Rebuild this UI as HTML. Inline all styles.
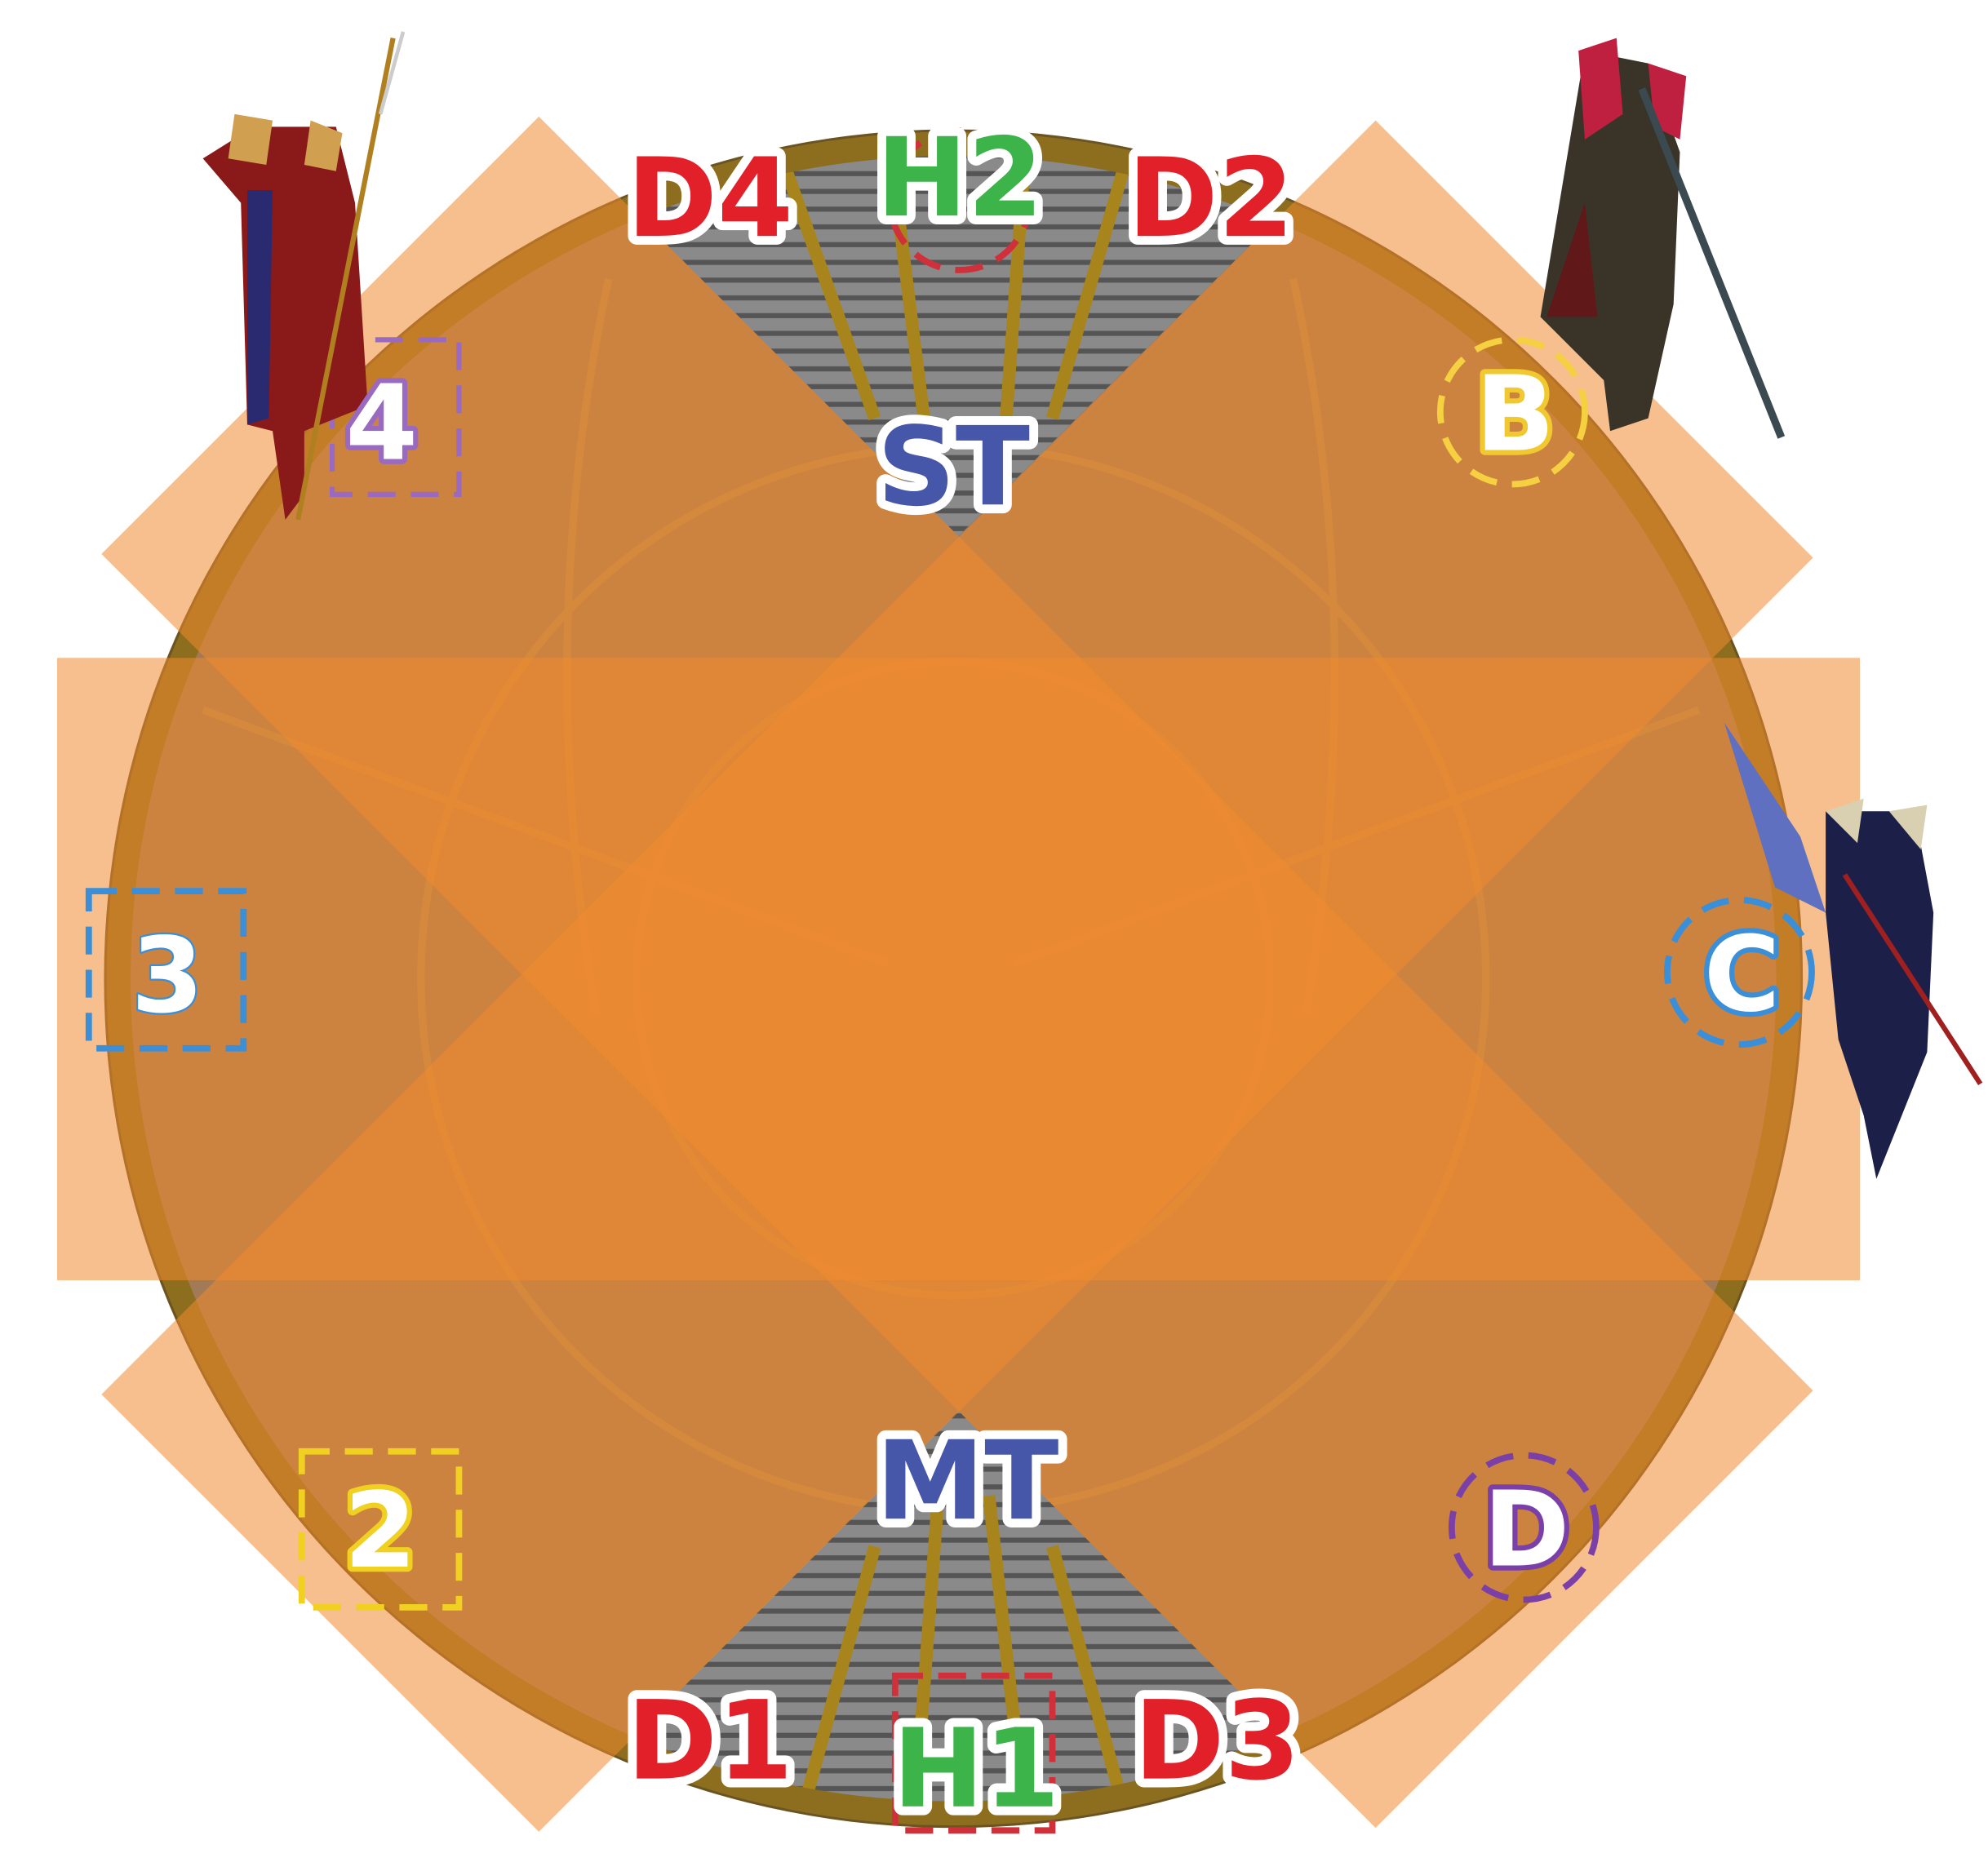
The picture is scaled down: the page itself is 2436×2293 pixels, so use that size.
<!DOCTYPE html>
<html><head><meta charset="utf-8"><style>
html,body{margin:0;padding:0;background:#fff;}
svg{display:block;}
.t{font-family:"DejaVu Sans","Liberation Sans",sans-serif;font-weight:bold;paint-order:stroke;stroke:#fff;stroke-linejoin:round;text-anchor:middle;}
</style></head><body>
<svg width="2436" height="2293" viewBox="0 0 1568 1476" xmlns="http://www.w3.org/2000/svg">
<defs>
<clipPath id="cc"><circle cx="752" cy="772" r="668"/></clipPath>
<pattern id="stripes" width="40" height="14" patternUnits="userSpaceOnUse">
<rect width="40" height="14" fill="#8a8a8a"/><rect y="9" width="40" height="4" fill="#555"/>
</pattern>
</defs>
<circle cx="752" cy="772" r="670" fill="#6b5420"/>
<circle cx="752" cy="772" r="655" fill="#a27a56"/>
<g clip-path="url(#cc)">
<g stroke="#c09048" stroke-width="6" fill="none" opacity="0.6">
<circle cx="752" cy="772" r="250"/><circle cx="752" cy="772" r="420"/>
<path d="M480 220 Q420 500 470 800"/><path d="M1020 220 Q1080 500 1030 800"/>
<path d="M160 560 L700 760"/><path d="M1340 560 L800 760"/>
</g>
<polygon points="333,0 756,423 1180,0" fill="url(#stripes)"/>
<polygon points="756,1113 394,1476 1119,1476" fill="url(#stripes)"/>
<g stroke="#a8841c" stroke-width="10">
<line x1="615" y1="120" x2="690" y2="330"/><line x1="700" y1="100" x2="735" y2="380"/>
<line x1="810" y1="100" x2="790" y2="380"/><line x1="890" y1="120" x2="830" y2="330"/>
<line x1="630" y1="1440" x2="690" y2="1220"/><line x1="720" y1="1450" x2="740" y2="1180"/>
<line x1="810" y1="1450" x2="780" y2="1180"/><line x1="890" y1="1440" x2="830" y2="1220"/>
</g>
<circle cx="752" cy="772" r="660" fill="none" stroke="#8d6d1e" stroke-width="22"/>
</g>
<g fill="#f08a30" fill-opacity="0.55">
<rect x="45" y="519" width="1422" height="491"/>
<polygon points="425,92 1430,1097 1085,1442 80,437"/>
<polygon points="1085,95 1430,440 425,1445 80,1100"/>
</g>
<circle cx="757" cy="158" r="55" fill="none" stroke="#d0303a" stroke-width="5" stroke-dasharray="22 12"/>
<rect x="706" y="1322" width="124" height="122" fill="none" stroke="#d0303a" stroke-width="5" stroke-dasharray="22 12"/>
<rect x="262" y="268" width="100" height="122" fill="none" stroke="#9a6ac0" stroke-width="4" stroke-dasharray="22 12"/>
<circle cx="1193" cy="325" r="57" fill="none" stroke="#f5d040" stroke-width="5" stroke-dasharray="22 12"/>
<rect x="70" y="703" width="122" height="124" fill="none" stroke="#3a8fd8" stroke-width="5" stroke-dasharray="22 12"/>
<circle cx="1372" cy="767" r="57" fill="none" stroke="#3a8fd8" stroke-width="5" stroke-dasharray="22 12"/>
<rect x="238" y="1145" width="124" height="123" fill="none" stroke="#f0d020" stroke-width="5" stroke-dasharray="22 12"/>
<circle cx="1202" cy="1205" r="57" fill="none" stroke="#7a40a8" stroke-width="5" stroke-dasharray="22 12"/>
<g>
<polygon points="200,100 265,100 280,160 290,320 240,340 240,390 225,410 215,340 195,335 190,160 160,125" fill="#8a1a1a"/>
<polygon points="185,90 215,95 210,130 180,125" fill="#d0a050"/><polygon points="245,95 270,105 265,135 240,130" fill="#d0a050"/>
<polygon points="195,150 215,150 212,330 195,335" fill="#2a2a70"/>
<line x1="310" y1="30" x2="235" y2="410" stroke="#b08020" stroke-width="4"/>
<line x1="318" y1="25" x2="300" y2="90" stroke="#ccc" stroke-width="3"/>
</g>
<g>
<polygon points="1250,40 1300,50 1325,120 1320,240 1300,330 1270,340 1265,300 1215,250 1235,130" fill="#3a3428"/>
<polygon points="1245,40 1275,30 1280,90 1250,110" fill="#c02040"/><polygon points="1300,50 1330,60 1325,110 1305,100" fill="#c02040"/>
<polygon points="1220,250 1250,160 1260,250" fill="#601818"/>
<line x1="1295" y1="70" x2="1405" y2="345" stroke="#3a4a50" stroke-width="6"/>
</g>
<g>
<polygon points="1360,570 1420,660 1440,720 1400,700" fill="#6070c0"/>
<polygon points="1440,640 1510,640 1525,720 1520,830 1500,880 1480,930 1470,880 1450,820 1440,720" fill="#1c2048"/>
<polygon points="1440,640 1470,630 1465,665" fill="#d8d0b0"/><polygon points="1490,640 1520,635 1515,670" fill="#d8d0b0"/>
<line x1="1455" y1="690" x2="1562" y2="855" stroke="#a02020" stroke-width="4"/>
</g>
<g class="t" font-size="86" stroke-width="14">
<text x="560" y="186" fill="#e2202a">D4</text>
<text x="757" y="170" fill="#3cb44a">H2</text>
<text x="955" y="186" fill="#e2202a">D2</text>
<text x="752" y="398" fill="#4656a8">ST</text>
<text x="763" y="1198" fill="#4656a8">MT</text>
<text x="560" y="1403" fill="#e2202a">D1</text>
<text x="770" y="1425" fill="#3cb44a">H1</text>
<text x="960" y="1403" fill="#e2202a">D3</text>
</g>
<g class="t" font-size="82" stroke-width="8">
<text x="301" y="362" fill="#fff" stroke="#9a6ac0">4</text>
<text x="1195" y="355" fill="#fff" stroke="#f0c830">B</text>
<text x="132" y="798" fill="#fff" stroke="#3a8fd8" stroke-width="3">3</text>
<text x="1374" y="797" fill="#fff" stroke="#3a8fd8">C</text>
<text x="300" y="1236" fill="#fff" stroke="#f0d020">2</text>
<text x="1204" y="1235" fill="#fff" stroke="#7a40a8">D</text>
</g>
</svg>
</body></html>
